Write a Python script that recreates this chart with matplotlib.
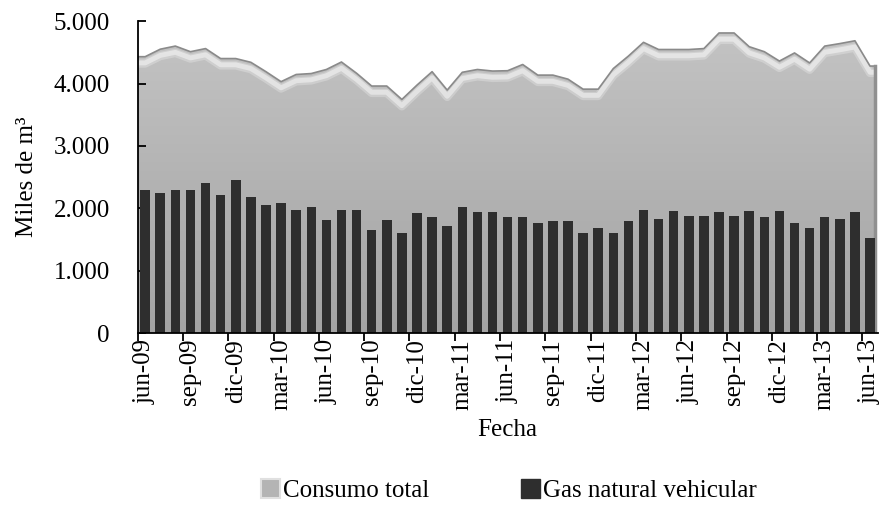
import matplotlib
matplotlib.use('Agg')
import matplotlib.pyplot as plt
import numpy as np
from matplotlib.colors import LinearSegmentedColormap
from matplotlib.patches import Patch

plt.rcParams['font.family'] = ['Liberation Serif', 'DejaVu Serif']

# data: monthly values, jun-09 .. jun-13 (miles de m3)
consumo_total = [4430, 4550, 4600, 4510, 4560, 4400, 4400, 4340, 4190, 4030,
                 4145, 4160, 4225, 4345, 4165, 3960, 3960, 3745, 3975, 4190,
                 3895, 4180, 4225, 4200, 4205, 4305, 4135, 4135, 4070, 3910,
                 3910, 4240, 4440, 4660, 4545, 4545, 4545, 4560, 4810, 4810,
                 4590, 4510, 4360, 4490, 4330, 4600, 4640, 4685, 4280]
gnv = [2290, 2250, 2290, 2290, 2410, 2215, 2450, 2185, 2050, 2080,
       1980, 2025, 1820, 1980, 1980, 1660, 1820, 1600, 1930, 1855,
       1715, 2015, 1945, 1945, 1855, 1855, 1760, 1795, 1795, 1600,
       1690, 1600, 1795, 1980, 1825, 1955, 1880, 1880, 1935, 1880,
       1955, 1855, 1955, 1760, 1690, 1855, 1825, 1935, 1520]
meses = ['ene', 'feb', 'mar', 'abr', 'may', 'jun', 'jul', 'ago', 'sep', 'oct', 'nov', 'dic']
y_ticks = [0, 1000, 2000, 3000, 4000, 5000]

n = len(gnv)
etiquetas = []
for k in range(n):
    m = (5 + k) % 12
    a = 9 + (5 + k) // 12
    etiquetas.append(f'{meses[m]}-{a:02d}')

x = np.arange(n)
fs = 18

fig = plt.figure(figsize=(8.82, 5.15), dpi=100)
ax = fig.add_axes([0.156, 0.353, 0.839, 0.606])
ax.set_xlim(-0.5, n - 0.5)
ax.set_ylim(0, 5000)

# area with vertical gradient
xa = np.concatenate([[-0.5], x, [n - 0.7]])
ya = np.concatenate([[consumo_total[0]], consumo_total, [consumo_total[-1]]])
poly = ax.fill_between(xa, 0, ya, color='none', lw=0, zorder=1)
cmap = LinearSegmentedColormap.from_list('g', ['#a4a4a4', '#b3b3b3', '#c4c4c4'])
grad = np.linspace(0, 1, 256).reshape(-1, 1)
im = ax.imshow(grad, cmap=cmap, aspect='auto', origin='lower',
               extent=[-0.5, n - 0.5, 0, 4900], zorder=1)
clip = poly.get_paths()[0]
im.set_clip_path(clip, ax.transData)
# bevel highlight under the top edge
for off, lw, al in [(110, 6, 0.25), (100, 3.5, 0.45)]:
    hl, = ax.plot(xa, ya - off, color='white', lw=lw, alpha=al, zorder=2,
                  solid_capstyle='butt')
    hl.set_clip_path(clip, ax.transData)
ax.plot(xa, ya, color='#8a8a8a', lw=1.2, zorder=3)
ax.plot([n - 0.7, n - 0.7], [0, consumo_total[-1]], color='#909090', lw=2.5, zorder=3)

ax.bar(x, gnv, width=0.63, color='#2e2e2e', zorder=4)

for s in ['top', 'right']:
    ax.spines[s].set_visible(False)
for s in ['left', 'bottom']:
    ax.spines[s].set_linewidth(1.3)
    ax.spines[s].set_zorder(5)

ax.set_yticks(y_ticks)
ax.set_yticklabels([f'{v:,}'.replace(',', '.') for v in y_ticks])
ax.tick_params(axis='y', direction='in', length=6, width=1.3, labelsize=fs, pad=20)

ax.set_xticks(x[::3])
ax.set_xticklabels(etiquetas[::3], rotation=90)
ax.set_xticks(np.arange(-0.5, n, 3), minor=True)
ax.tick_params(axis='x', which='major', length=0, labelsize=fs, pad=4)
ax.tick_params(axis='x', which='minor', direction='out', length=6, width=1.3)

ax.set_ylabel('Miles de m³', fontsize=fs)
ax.yaxis.set_label_coords(-0.135, 0.5)
ax.set_xlabel('Fecha', fontsize=fs, labelpad=6)

handles = [Patch(facecolor='#b4b4b4', edgecolor='#e0e0e0', lw=1.5),
           Patch(facecolor='#2e2e2e', edgecolor='#2e2e2e')]
fig.legend(handles, ['Consumo total', 'Gas natural vehicular'], loc='center',
           bbox_to_anchor=(0.577, 0.047), ncol=2, frameon=False, fontsize=fs,
           handlelength=0.75, handleheight=0.75, handletextpad=0.1, columnspacing=3.7)

fig.savefig('out.png', dpi=100)
